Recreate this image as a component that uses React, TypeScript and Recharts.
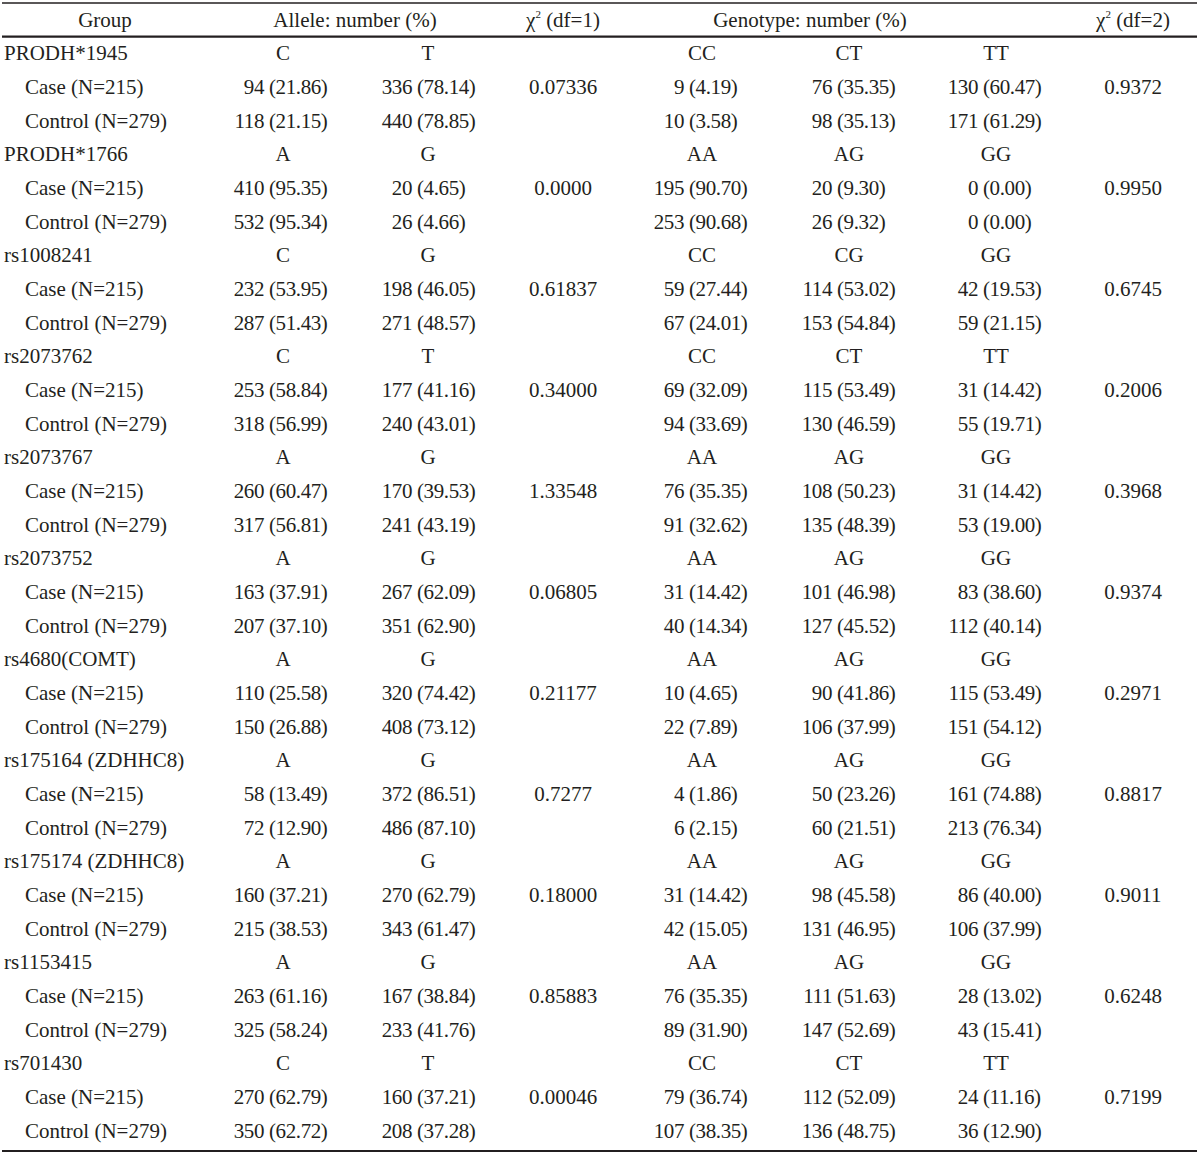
import React from 'react';
import { ScatterChart, Scatter, XAxis, YAxis, ReferenceLine } from 'recharts';

// ---------- DATA ----------
const snpNames = [
  'PRODH*1945', 'PRODH*1766', 'rs1008241', 'rs2073762', 'rs2073767', 'rs2073752',
  'rs4680(COMT)', 'rs175164 (ZDHHC8)', 'rs175174 (ZDHHC8)', 'rs1153415', 'rs701430',
];
const alleleLabels = [
  ['C', 'T'], ['A', 'G'], ['C', 'G'], ['C', 'T'], ['A', 'G'], ['A', 'G'],
  ['A', 'G'], ['A', 'G'], ['A', 'G'], ['A', 'G'], ['C', 'T'],
];
const genotypeLabels = [
  ['CC', 'CT', 'TT'], ['AA', 'AG', 'GG'], ['CC', 'CG', 'GG'], ['CC', 'CT', 'TT'],
  ['AA', 'AG', 'GG'], ['AA', 'AG', 'GG'], ['AA', 'AG', 'GG'], ['AA', 'AG', 'GG'],
  ['AA', 'AG', 'GG'], ['AA', 'AG', 'GG'], ['CC', 'CT', 'TT'],
];
const groupLabels = ['Case (N=215)', 'Control (N=279)'];
const headerLabels = ['Group', 'Allele: number (%)', 'χ2 (df=1)', 'Genotype: number (%)', 'χ2 (df=2)'];

const caseAlleleCounts = [[94, 336], [410, 20], [232, 198], [253, 177], [260, 170], [163, 267], [110, 320], [58, 372], [160, 270], [263, 167], [270, 160]];
const caseAllelePct = [[21.86, 78.14], [95.35, 4.65], [53.95, 46.05], [58.84, 41.16], [60.47, 39.53], [37.91, 62.09], [25.58, 74.42], [13.49, 86.51], [37.21, 62.79], [61.16, 38.84], [62.79, 37.21]];
const controlAlleleCounts = [[118, 440], [532, 26], [287, 271], [318, 240], [317, 241], [207, 351], [150, 408], [72, 486], [215, 343], [325, 233], [350, 208]];
const controlAllelePct = [[21.15, 78.85], [95.34, 4.66], [51.43, 48.57], [56.99, 43.01], [56.81, 43.19], [37.10, 62.90], [26.88, 73.12], [12.90, 87.10], [38.53, 61.47], [58.24, 41.76], [62.72, 37.28]];
const alleleChi = ['0.07336', '0.0000', '0.61837', '0.34000', '1.33548', '0.06805', '0.21177', '0.7277', '0.18000', '0.85883', '0.00046'];

const caseGenoCounts = [[9, 76, 130], [195, 20, 0], [59, 114, 42], [69, 115, 31], [76, 108, 31], [31, 101, 83], [10, 90, 115], [4, 50, 161], [31, 98, 86], [76, 111, 28], [79, 112, 24]];
const caseGenoPct = [[4.19, 35.35, 60.47], [90.70, 9.30, 0.00], [27.44, 53.02, 19.53], [32.09, 53.49, 14.42], [35.35, 50.23, 14.42], [14.42, 46.98, 38.60], [4.65, 41.86, 53.49], [1.86, 23.26, 74.88], [14.42, 45.58, 40.00], [35.35, 51.63, 13.02], [36.74, 52.09, 11.16]];
const controlGenoCounts = [[10, 98, 171], [253, 26, 0], [67, 153, 59], [94, 130, 55], [91, 135, 53], [40, 127, 112], [22, 106, 151], [6, 60, 213], [42, 131, 106], [89, 147, 43], [107, 136, 36]];
const controlGenoPct = [[3.58, 35.13, 61.29], [90.68, 9.32, 0.00], [24.01, 54.84, 21.15], [33.69, 46.59, 19.71], [32.62, 48.39, 19.00], [14.34, 45.52, 40.14], [7.89, 37.99, 54.12], [2.15, 21.51, 76.34], [15.05, 46.95, 37.99], [31.90, 52.69, 15.41], [38.35, 48.75, 12.90]];
const genoChi = ['0.9372', '0.9950', '0.6745', '0.2006', '0.3968', '0.9374', '0.2971', '0.8817', '0.9011', '0.6248', '0.7199'];

// ---------- LAYOUT ----------
const W = 1200;
const H = 1154;
const FONT = '"Liberation Serif", "Times New Roman", serif';
const FS = 21;
const INK = '#231f20';
const X_GROUP = 4;
const X_SUB = 25;
const HEAD_X = [105, 355, 563, 810, 1133];
const LABEL_X = [283, 428, 702, 849, 996];
const PAREN_X = [269, 417, 689, 837, 983];
const CHI_X = [563, 1133];

type Cell = { x: number; y: number; kind: string; text: string; pct?: string; anchor?: string };

const buildCells = (): Cell[] => {
  const cells: Cell[] = [];
  headerLabels.forEach((t, i) => cells.push({ x: HEAD_X[i], y: 0, kind: t.startsWith('χ2') ? 'chi' : 'text', text: t, anchor: 'middle' }));
  snpNames.forEach((name, s) => {
    const r = 1 + s * 3;
    cells.push({ x: X_GROUP, y: r, kind: 'text', text: name, anchor: 'start' });
    alleleLabels[s].forEach((a, i) => cells.push({ x: LABEL_X[i], y: r, kind: 'text', text: a, anchor: 'middle' }));
    genotypeLabels[s].forEach((g, i) => cells.push({ x: LABEL_X[2 + i], y: r, kind: 'text', text: g, anchor: 'middle' }));
    const groups = [
      { counts: caseAlleleCounts[s], pct: caseAllelePct[s], gc: caseGenoCounts[s], gp: caseGenoPct[s] },
      { counts: controlAlleleCounts[s], pct: controlAllelePct[s], gc: controlGenoCounts[s], gp: controlGenoPct[s] },
    ];
    groups.forEach((g, gi) => {
      const rr = r + 1 + gi;
      cells.push({ x: X_SUB, y: rr, kind: 'text', text: groupLabels[gi], anchor: 'start' });
      g.counts.forEach((c, i) => cells.push({ x: PAREN_X[i], y: rr, kind: 'num', text: String(c), pct: g.pct[i].toFixed(2) }));
      g.gc.forEach((c, i) => cells.push({ x: PAREN_X[2 + i], y: rr, kind: 'num', text: String(c), pct: g.gp[i].toFixed(2) }));
      if (gi === 0) {
        cells.push({ x: CHI_X[0], y: rr, kind: 'text', text: alleleChi[s], anchor: 'middle' });
        cells.push({ x: CHI_X[1], y: rr, kind: 'text', text: genoChi[s], anchor: 'middle' });
      }
    });
  });
  return cells;
};

const cells = buildCells();

const CellShape = (props: any) => {
  const { cx, cy, payload } = props;
  const base = { fontFamily: FONT, fontSize: FS, fill: INK, dy: '0.33em' } as any;
  if (payload.kind === 'num') {
    return (
      <g>
        <text x={cx - 5} y={cy} textAnchor="end" letterSpacing={-0.4} {...base}>{payload.text}</text>
        <text x={cx} y={cy} textAnchor="start" letterSpacing={-0.4} {...base}>({payload.pct})</text>
      </g>
    );
  }
  if (payload.kind === 'chi') {
    const rest = payload.text.slice(2);
    return (
      <text x={cx} y={cy} textAnchor="middle" fontFamily={FONT} fontSize={FS} fill={INK} dy="0.33em">
        χ<tspan fontSize={11} dy={-9}>2</tspan><tspan dy={9}>{rest}</tspan>
      </text>
    );
  }
  return (
    <text x={cx} y={cy} textAnchor={payload.anchor} {...base}>{payload.text}</text>
  );
};

export default function App() {
  return (
    <div style={{ width: W, height: H, background: '#fff' }}>
      <style>{'body{margin:0;background:#fff}'}</style>
      <ScatterChart width={W} height={H} margin={{ top: 3, right: 3, bottom: 3, left: 2 }}>
        <XAxis type="number" dataKey="x" domain={[2, W - 3]} hide />
        <YAxis type="number" dataKey="y" domain={[-0.5, 33.6]} reversed hide />
        <ReferenceLine y={-0.5} stroke={INK} strokeWidth={1.6} ifOverflow="visible" />
        <ReferenceLine y={0.5} stroke={INK} strokeWidth={2.2} ifOverflow="visible" />
        <ReferenceLine y={33.6} stroke={INK} strokeWidth={2.2} ifOverflow="visible" />
        <Scatter data={cells} shape={CellShape} isAnimationActive={false} />
      </ScatterChart>
    </div>
  );
}
